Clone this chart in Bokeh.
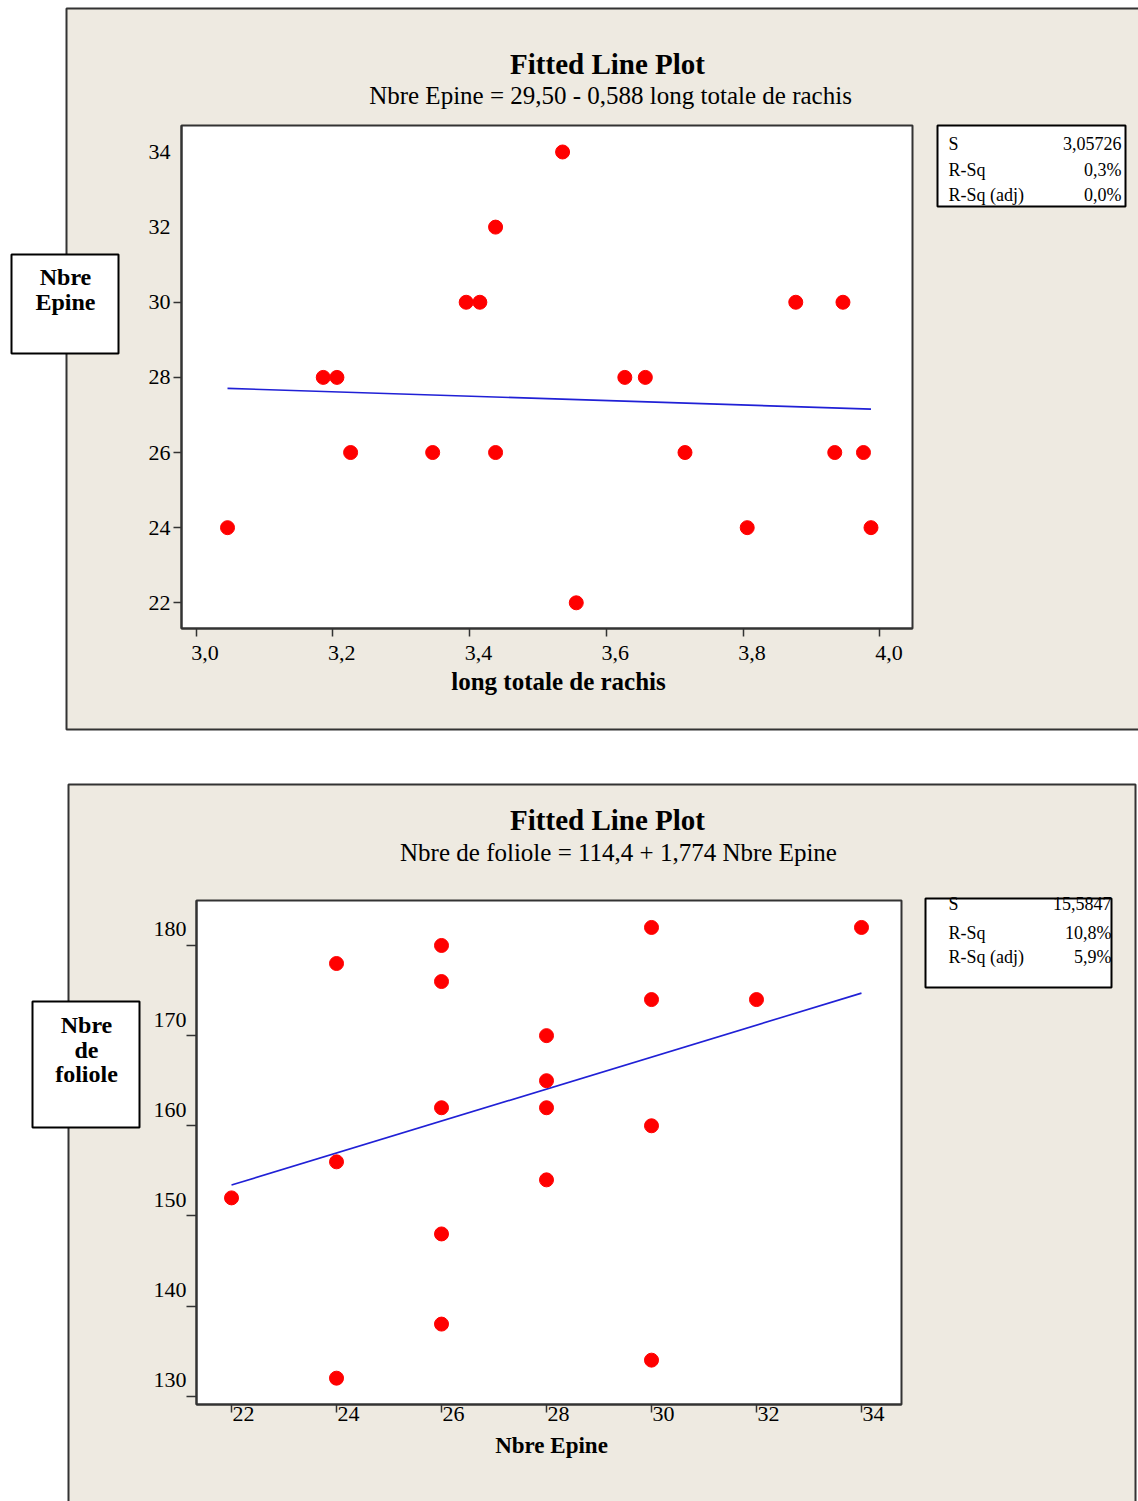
from bokeh.plotting import figure
from bokeh.models import Range1d, LinearAxis, FixedTicker, CustomJSTickFormatter
from bokeh.core.properties import value
from bokeh.embed import file_html
from bokeh.resources import INLINE

# ---- Nbre Epine against long totale de rachis ----
rachis = [3.046, 3.186, 3.206, 3.226, 3.346, 3.395, 3.415, 3.438, 3.438, 3.536,
          3.556, 3.627, 3.657, 3.715, 3.806, 3.877, 3.934, 3.946, 3.976, 3.987]
epine_a = [24, 28, 28, 26, 26, 30, 30, 32, 26, 34,
           22, 28, 28, 26, 24, 30, 26, 30, 26, 24]
fit_a = (29.50, -0.588)          # intercept, slope
stats_a = ["3,05726", "0,3%", "0,0%"]
x_ticks_a = [3.0, 3.2, 3.4, 3.6, 3.8, 4.0]
y_ticks_a = [22, 24, 26, 28, 30, 32, 34]

# ---- Nbre de foliole against Nbre Epine ----
epine_b = [22, 24, 24, 24, 26, 26, 26, 26, 26, 28, 28, 28, 28, 30, 30, 30, 30, 32, 34]
foliole = [152, 178, 156, 132, 180, 176, 162, 148, 138, 170, 165, 162, 154,
           182, 174, 160, 134, 174, 182]
fit_b = (114.4, 1.774)
stats_b = ["15,5847", "10,8%", "5,9%"]
x_ticks_b = [22, 24, 26, 28, 30, 32, 34]
y_ticks_b = [130, 140, 150, 160, 170, 180]

stat_names = ["S", "R-Sq", "R-Sq (adj)"]

SERIF = "Liberation Serif"
BEIGE = "#eeeae1"
EDGE = "#333333"
POINT = "#ff0000"
LINE = "#2020d6"
PAGE_W, PAGE_H = 1138, 1501

comma_fmt = CustomJSTickFormatter(code="return tick.toFixed(1).replace('.', ',')")
blank_fmt = CustomJSTickFormatter(code="return ''")


def bare(p):
    p.xgrid.visible = False
    p.ygrid.visible = False


# ---------- page: panels, boxes and captions (pixel space, y downwards) ----------
page = figure(width=PAGE_W, height=PAGE_H, x_range=Range1d(0, PAGE_W),
              y_range=Range1d(PAGE_H, 0), output_backend="svg", toolbar_location=None,
              x_axis_location=None, y_axis_location=None, min_border=0)
bare(page)
page.outline_line_color = None
page.background_fill_color = "white"
page.border_fill_color = "white"
page.styles = {"position": "absolute", "left": "0px", "top": "0px", "z-index": "0"}


def box(l, r, t, b, fill, line, width=2):
    page.quad(left=[l], right=[r], top=[t], bottom=[b], fill_color=fill,
              line_color=line, line_width=width)


def caption(xs, ys, texts, size, bold=False, align="left"):
    page.text(x=xs, y=ys, text=texts, text_font=value(SERIF),
              text_font_size=value(size), text_font_style="bold" if bold else "normal",
              text_align=align, text_baseline="middle", text_color="black")


# beige panels
box(66, 1160, 8, 729, BEIGE, EDGE)
box(68, 1135, 784, 1530, BEIGE, EDGE)

# titles
caption([607, 607], [63, 819], ["Fitted Line Plot", "Fitted Line Plot"], "29px", bold=True, align="center")
caption([610], [95], ["Nbre Epine = 29,50 - 0,588 long totale de rachis"], "25px", align="center")
caption([618], [852], ["Nbre de foliole = 114,4 + 1,774 Nbre Epine"], "25px", align="center")

# x-axis names
caption([558], [681], ["long totale de rachis"], "25px", bold=True, align="center")
caption([551], [1445], ["Nbre Epine"], "23px", bold=True, align="center")

# y-axis name boxes
box(11, 118, 254, 353, "white", "black")
caption([65, 65], [276, 301], ["Nbre", "Epine"], "24px", bold=True, align="center")
box(32, 139, 1001, 1127, "white", "black")
caption([86, 86, 86], [1024, 1049, 1073], ["Nbre", "de", "foliole"], "24px", bold=True, align="center")

# regression summary boxes
box(937, 1125, 125, 206, "white", "black")
caption([948] * 3, [143, 169, 194], stat_names, "18px")
caption([1121] * 3, [143, 169, 194], stats_a, "18px", align="right")
box(925, 1111, 898, 987, "white", "black")
caption([948] * 3, [903, 932, 956], stat_names, "18px")
caption([1111] * 3, [903, 932, 956], stats_b, "18px", align="right")


# ---------- the two fitted line plots ----------
def tick_axis(ticks, tick_out, **kw):
    return LinearAxis(ticker=FixedTicker(ticks=ticks), formatter=blank_fmt,
                      major_tick_out=tick_out, major_tick_in=0,
                      minor_tick_line_color=None,
                      major_label_text_font_size="0px", major_label_standoff=0,
                      axis_line_color=EDGE, axis_line_width=2,
                      major_tick_line_color=EDGE, major_tick_line_width=1.5, **kw)


def label_axis(ticks, standoff, **kw):
    return LinearAxis(ticker=FixedTicker(ticks=ticks),
                      axis_line_color=None, major_tick_line_color=None,
                      minor_tick_line_color=None, major_label_standoff=standoff,
                      major_label_text_font=SERIF, major_label_text_font_size="22px",
                      major_label_text_color="black", **kw)


def chart(h, top, xr, yr, borders):
    l, r, t, b = borders
    p = figure(width=PAGE_W, height=h, x_range=Range1d(*xr), y_range=Range1d(*yr),
               output_backend="svg", toolbar_location=None,
               x_axis_location=None, y_axis_location=None,
               min_border_left=l, min_border_right=r,
               min_border_top=t, min_border_bottom=b)
    bare(p)
    p.background_fill_color = "white"
    p.border_fill_alpha = 0
    p.border_fill_color = None
    p.outline_line_color = EDGE
    p.outline_line_width = 2
    p.styles = {"position": "absolute", "left": "0px", "top": f"{top}px", "z-index": "1"}
    return p


# first chart
xr_a = (2.9787, 4.0477)
yr_a = (21.316, 34.705)
p1 = chart(757, 0, xr_a, yr_a, (181, 226, 125, 129))
p1.add_layout(tick_axis(x_ticks_a, 8), "below")
dx_a = 9 / 683.8
p1.extra_x_ranges = {"xlab": Range1d(xr_a[0] - dx_a, xr_a[1] - dx_a)}
p1.add_layout(label_axis(x_ticks_a, 3, x_range_name="xlab", formatter=comma_fmt), "below")
p1.add_layout(tick_axis([t for t in y_ticks_a if t <= 30], 8), "left")
p1.add_layout(label_axis(y_ticks_a, -3), "left")

fx_a = [min(rachis), max(rachis)]
p1.line(fx_a, [fit_a[0] + fit_a[1] * x for x in fx_a], line_color=LINE, line_width=1.6)
p1.scatter(rachis, epine_a, size=14, fill_color=POINT, line_color=POINT)

# second chart
xr_b = (21.333, 34.762)
yr_b = (129.08, 184.99)
p2 = chart(744, 757, xr_b, yr_b, (196, 237, 143, 97))
p2.add_layout(tick_axis(x_ticks_b, 8), "below")
dx_b = 12 / 52.49
p2.extra_x_ranges = {"xlab": Range1d(xr_b[0] - dx_b, xr_b[1] - dx_b)}
p2.add_layout(label_axis(x_ticks_b, -12, x_range_name="xlab"), "below")
p2.add_layout(tick_axis(y_ticks_b, 10), "left")
dy_b = 16 / 9.014
p2.extra_y_ranges = {"ylab": Range1d(yr_b[0] - dy_b, yr_b[1] - dy_b)}
p2.add_layout(label_axis(y_ticks_b, -6, y_range_name="ylab"), "left")

fx_b = [min(epine_b), max(epine_b)]
p2.line(fx_b, [fit_b[0] + fit_b[1] * x for x in fx_b], line_color=LINE, line_width=1.6)
p2.scatter(epine_b, foliole, size=14, fill_color=POINT, line_color=POINT)

open("out.html", "w").write(file_html([page, p1, p2], INLINE))
